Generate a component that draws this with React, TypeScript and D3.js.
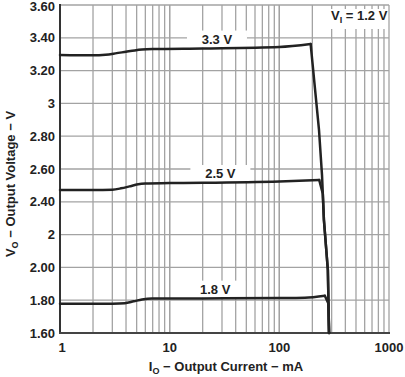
import React from "react";
import * as d3 from "d3";

const xTickValues = [1, 10, 100, 1000];
const xTickLabels = ["1", "10", "100", "1000"];
const yTickValues = [3.6, 3.4, 3.2, 3.0, 2.8, 2.6, 2.4, 2.2, 2.0, 1.8, 1.6];
const yTickLabels = ["3.60", "3.40", "3.20", "3", "2.80", "2.60", "2.40", "2", "2.00", "1.80", "1.60"];

// each series: rising part (smooth) up to the knee, then the drop (straight)
const s33I = [1, 2, 2.6, 3.2, 4, 4.8, 5.6, 7, 20, 100, 193, 230, 245, 255, 277, 284];
const s33V = [3.295, 3.293, 3.297, 3.305, 3.315, 3.323, 3.328, 3.331, 3.335, 3.344, 3.362, 2.838, 2.563, 2.289, 1.984, 1.6];
const s33Knee = 10;
const s25I = [1, 2, 3, 3.6, 4.3, 5, 6, 10, 100, 231, 249, 255, 277, 284];
const s25V = [2.472, 2.472, 2.474, 2.482, 2.494, 2.505, 2.512, 2.514, 2.524, 2.533, 2.45, 2.289, 1.984, 1.6];
const s25Knee = 9;
const s18I = [1, 2, 3, 3.9, 4.7, 5.6, 6.9, 20, 100, 171, 260, 280, 284];
const s18V = [1.778, 1.778, 1.779, 1.782, 1.793, 1.804, 1.81, 1.811, 1.813, 1.815, 1.827, 1.78, 1.6];
const s18Knee = 10;

const seriesLabels = ["3.3 V", "2.5 V", "1.8 V"];
const labelI = [27, 29, 26];
const labelV = [3.365, 2.545, 1.84];

export default function App() {
  const L = 60, R = 389, T = 5, B = 333;
  const x = d3.scaleLog().domain([1, 1000]).range([L, R]);
  const y = d3.scaleLinear().domain([1.6, 3.6]).range([B, T]);
  const minor: number[] = [];
  for (let d = 1; d < 1000; d *= 10) for (let k = 1; k <= 10; k++) minor.push(d * k);
  const smooth = d3.line<[number, number]>().x(d => x(d[0])).y(d => y(d[1])).curve(d3.curveMonotoneX);
  const straight = d3.line<[number, number]>().x(d => x(d[0])).y(d => y(d[1]));
  const raw = [
    { I: s33I, V: s33V, k: s33Knee },
    { I: s25I, V: s25V, k: s25Knee },
    { I: s18I, V: s18V, k: s18Knee },
  ];
  const series = raw.map(s => {
    const pts = s.I.map((v, i) => [v, s.V[i]] as [number, number]);
    return { a: pts.slice(0, s.k + 1), b: pts.slice(s.k) };
  });
  const font = "Liberation Sans, Arial, sans-serif";
  return (
    <svg width={405} height={377} style={{ position: "absolute", left: 0, top: 0, background: "#fff" }} fontFamily={font}>
      {minor.map((m, i) => (
        <line key={"v" + i} x1={x(m)} x2={x(m)} y1={T} y2={B} stroke="#a3a3a3" strokeWidth={1.3} />
      ))}
      {yTickValues.map((v, i) => (
        <line key={"h" + i} x1={L} x2={R} y1={y(v)} y2={y(v)} stroke="#a3a3a3" strokeWidth={1.3} />
      ))}
      {seriesLabels.map((s, i) => (
        <rect key={"bg" + i} x={x(labelI[i]) - 30} y={y(labelV[i]) - 13} width={60} height={17} fill="#fff" />
      ))}
      <rect x={318} y={9} width={70} height={20} fill="#fff" />
      <line x1={L} x2={L} y1={T - 1} y2={B + 1} stroke="#333" strokeWidth={2} />
      <line x1={L - 1} x2={R + 1} y1={B} y2={B} stroke="#444" strokeWidth={2} />
      {series.map((s, i) => (
        <g key={"s" + i} fill="none" stroke="#222" strokeWidth={2.5} strokeLinejoin="round" strokeLinecap="round">
          <path d={smooth(s.a) || ""} />
          <path d={straight(s.b) || ""} />
        </g>
      ))}
      {seriesLabels.map((s, i) => (
        <text key={"l" + i} x={x(labelI[i])} y={y(labelV[i])} textAnchor="middle" fontSize={13} fontWeight="bold" fill="#222">{s}</text>
      ))}
      <text x={331} y={20} fontSize={13} fontWeight="bold" fill="#222">
        V<tspan fontSize={9} dy={3}>I</tspan><tspan dy={-3}> = 1.2 V</tspan>
      </text>
      {yTickValues.map((v, i) => (
        <text key={"yt" + i} x={55} y={Math.max(y(v) + 4.5, 10.5)} textAnchor="end" fontSize={13} fontWeight="bold" fill="#222">{yTickLabels[i]}</text>
      ))}
      {xTickValues.map((v, i) => (
        <text key={"xt" + i} x={x(v) + (i === 0 ? 2 : 0)} y={352} textAnchor="middle" fontSize={13} fontWeight="bold" fill="#222">{xTickLabels[i]}</text>
      ))}
      <text x={226} y={371} textAnchor="middle" fontSize={13} fontWeight="bold" fill="#222">
        I<tspan fontSize={9} dy={3}>O</tspan><tspan dy={-3}> − Output Current − mA</tspan>
      </text>
      <text transform="translate(15,184) rotate(-90)" textAnchor="middle" fontSize={13} fontWeight="bold" fill="#222">
        V<tspan fontSize={9} dy={3}>O</tspan><tspan dy={-3}> − Output Voltage − V</tspan>
      </text>
    </svg>
  );
}
